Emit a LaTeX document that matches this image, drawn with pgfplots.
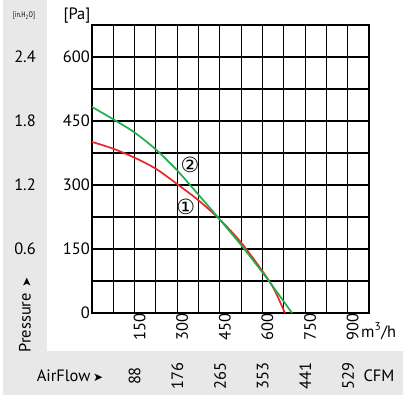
\documentclass[border=0pt]{standalone}
\usepackage{fontspec}
\setmainfont{PT Sans}
\newfontfamily\dejavu{DejaVu Sans}
\usepackage{pgfplots}
\pgfplotsset{compat=1.18}
\definecolor{bggray}{HTML}{E8E8E8}
\definecolor{cred}{HTML}{E8262B}
\definecolor{cgreen}{HTML}{20AE4A}
\newcommand{\lbl}{\fontsize{16.5}{16.5}\selectfont}
\begin{document}
\begin{tikzpicture}
\begin{scope}[x=1bp,y=-1bp]
\path (0,0) rectangle (403,398);
\fill[bggray] (3,0) rectangle (47,351);
\fill[bggray] (3,351) rectangle (403,395);
\node[font=\fontsize{8}{8}\selectfont, inner sep=0, xscale=0.8] at (24,16) {[in.H\textsubscript{2}O]};
\node[font=\lbl, inner sep=0] at (77,16) {[Pa]};
\foreach \v/\y in {2.4/57,1.8/121,1.2/185,0.6/249}
  \node[font=\lbl, inner sep=0] at (25,\y) {\v};
\node[font=\lbl, inner sep=0, rotate=90] at (25,315) {Pressure\,\,{\dejavu\fontsize{12}{12}\selectfont ➤}};
\node[font=\lbl, inner sep=0] at (70,376) {AirFlow\,{\dejavu\fontsize{12}{12}\selectfont ➤}};
\foreach \v/\x in {88/134.7,176/177.3,265/220,353/262.7,441/305.3,529/348}
  \node[font=\lbl, inner sep=0, rotate=90] at (\x,376) {\v};
\node[font=\lbl, inner sep=0, anchor=west] at (361,331) {m\textsuperscript{3}/h};
\node[font=\lbl, inner sep=0] at (379,376) {CFM};
\end{scope}
\begin{axis}[
  at={(92bp,-313bp)}, anchor=south west,
  scale only axis, width=277bp, height=288bp,
  xmin=0, xmax=975, ymin=0, ymax=675,
  xtick={0,75,...,975}, ytick={0,75,...,675},
  xticklabels={,,150,,300,,450,,600,,750,,900,},
  yticklabels={0,,150,,300,,450,,600,},
  grid=major, major grid style={black, line width=1.1bp},
  axis line style={black, line width=1.1bp},
  major tick length=0pt,
  tick label style={font=\lbl},
  xticklabel style={rotate=90, anchor=east, inner sep=0pt, xshift=0bp, yshift=-5bp},
  yticklabel style={anchor=east, inner sep=0pt, xshift=-2bp},
  clip=true,
]
\addplot[cred, line width=1.7bp, smooth] coordinates {
  (0,401) (75,385) (150,364) (225,338) (300,302) (375,264) (450,219)
  (525,165) (600,98) (640,57) (679,0)};
\addplot[cgreen, line width=1.7bp, smooth] coordinates {
  (0,483) (75,454) (150,423) (225,383) (300,334) (375,277) (450,219)
  (525,159) (600,95) (650,50) (704,0)};
\node[font=\dejavu\fontsize{21}{21}\selectfont, inner sep=0] at (axis cs:345,347) {②};
\node[font=\dejavu\fontsize{21}{21}\selectfont, inner sep=0] at (axis cs:330,248) {①};
\end{axis}
\end{tikzpicture}
\end{document}
